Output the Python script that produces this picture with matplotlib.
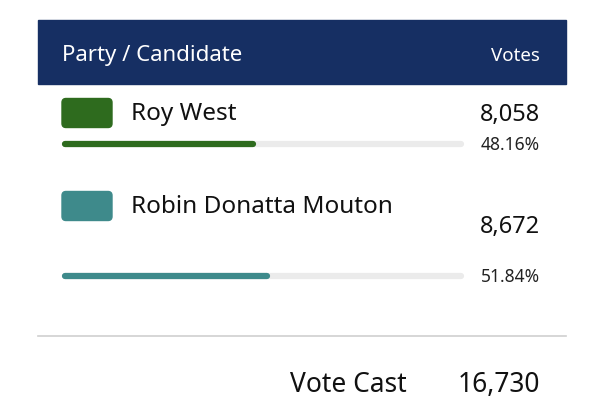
import matplotlib.pyplot as plt
from matplotlib.patches import FancyBboxPatch, Rectangle

# data
candidates = ["Roy West", "Robin Donatta Mouton"]
votes = [8058, 8672]
shares = [48.16, 51.84]
colors = ["#2e6b1e", "#3e8a8b"]
total_label = "Vote Cast"
total_votes = sum(votes)

plt.rcParams['font.family'] = ['Noto Sans', 'DejaVu Sans']

fig = plt.figure(figsize=(6.03, 4.20), dpi=100)
ax = fig.add_axes([0, 0, 1, 1])
ax.set_xlim(0, 603)
ax.set_ylim(420, 0)
ax.axis('off')

# header
ax.add_patch(Rectangle((38, 20), 528, 64, color="#162f63"))
ax.text(62, 55, "Party / Candidate", color="white", fontsize=16, va='center')
ax.text(540, 56, "Votes", color="white", fontsize=13.5, va='center', ha='right')

# rows
name_y = [114, 207]
vote_y = [115, 227]
bar_y = [144, 276]
bar_x0, bar_len = 62, 402
cap = 3  # round cap sticks out by this much
for i, name in enumerate(candidates):
    ax.add_patch(FancyBboxPatch((64, name_y[i] - 13.5), 46, 25,
                                boxstyle="round,pad=2,rounding_size=4",
                                color=colors[i]))
    ax.text(131, name_y[i], name, fontsize=17.5, va='center', color="#111111")
    ax.text(540, vote_y[i], f"{votes[i]:,}", fontsize=17, va='center',
            ha='right', color="#111111")
    # track + fill
    ax.plot([bar_x0 + cap, bar_x0 + bar_len - cap], [bar_y[i], bar_y[i]],
            color="#ebebeb", lw=4.5, solid_capstyle='round')
    ax.plot([bar_x0 + cap, bar_x0 + bar_len * shares[i] / 100 - cap],
            [bar_y[i], bar_y[i]], color=colors[i], lw=4.5,
            solid_capstyle='round')
    ax.text(540, bar_y[i] + 1, f"{shares[i]:.2f}%", fontsize=12.5, va='center',
            ha='right', color="#222222")

# separator
ax.plot([38, 566], [336, 336], color="#cfcfcf", lw=1.2)

# total
ax.text(407, 385, total_label, fontsize=19, va='center', ha='right', color="#111111")
ax.text(540, 385, f"{total_votes:,}", fontsize=19, va='center', ha='right', color="#111111")

fig.savefig("out.png", dpi=100)
